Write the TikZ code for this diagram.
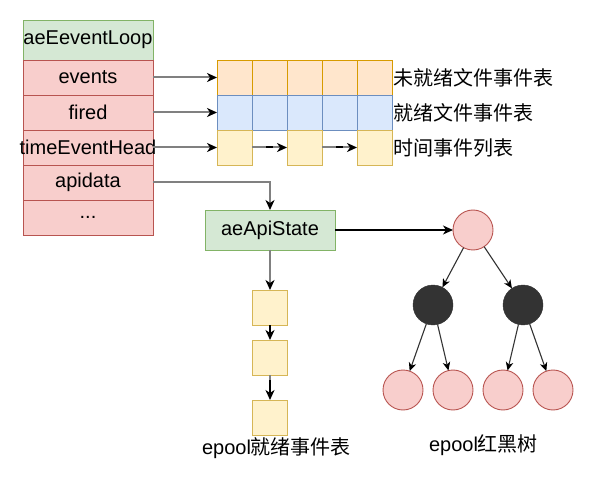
\documentclass[tikz,border=0pt]{standalone}
\usepackage{fontspec}
\setmainfont{Liberation Sans}
\newfontfamily\cjk{Noto Sans CJK SC}
\usetikzlibrary{arrows.meta}
\definecolor{gfill}{HTML}{D5E8D4}
\definecolor{gline}{HTML}{82B366}
\definecolor{rfill}{HTML}{F8CECC}
\definecolor{rline}{HTML}{B85450}
\definecolor{ofill}{HTML}{FFE6CC}
\definecolor{oline}{HTML}{D79B00}
\definecolor{bfill}{HTML}{DAE8FC}
\definecolor{bline}{HTML}{6C8EBF}
\definecolor{yfill}{HTML}{FFF2CC}
\definecolor{yline}{HTML}{D6B656}
\definecolor{dark}{HTML}{333333}
\definecolor{edgegray}{HTML}{808080}
\begin{document}
\begin{tikzpicture}[x=1pt,y=-1pt,
  every node/.style={inner sep=0pt,outer sep=0pt,font=\fontsize{20}{24}\selectfont},
  hdr/.style={draw=gline,fill=gfill,line width=0.9pt,minimum width=130pt,minimum height=40pt},
  row/.style={draw=rline,fill=rfill,line width=0.9pt,minimum width=130pt,minimum height=35pt,inner xsep=-10pt},
  ocell/.style={draw=oline,fill=ofill,line width=0.9pt,minimum width=35pt,minimum height=35pt},
  bcell/.style={draw=bline,fill=bfill,line width=0.9pt,minimum width=35pt,minimum height=35pt},
  ycell/.style={draw=yline,fill=yfill,line width=0.9pt,minimum width=35pt,minimum height=35pt},
  apibox/.style={draw=gline,fill=gfill,line width=0.9pt,minimum width=130pt,minimum height=40pt},
  rnode/.style={circle,draw=rline,fill=rfill,line width=0.9pt,minimum size=40pt},
  knode/.style={circle,draw=dark,fill=dark,minimum size=40pt},
  tip/.style={-{Stealth[length=10pt,width=9pt,inset=3pt,color=black]}},
  garrow/.style={tip,draw=edgegray,line width=2pt},
  karrow/.style={tip,draw=black,line width=2pt},
  tarrow/.style={-{Stealth[length=8.5pt,width=7.5pt,inset=2.5pt,color=black]},draw=dark,line width=1.1pt},
  lbl/.style={anchor=west}]
\useasboundingbox (0,0) rectangle (594,486);
% left table
\node[hdr] (loop) at (88,40) {aeEeventLoop};
\node[row] (events) at (88,77.5) {events};
\node[row] (fired) at (88,112.5) {fired};
\node[row] (teh) at (88,147.5) {timeEventHead};
\node[row] (apidata) at (88,182.5) {apidata};
\node[row] (dots) at (88,217.5) {...};
% grid
\foreach \i/\x in {1/234.5,2/269.5,3/304.5,4/339.5,5/374.5}{
  \node[ocell] (e\i) at (\x,77.5) {};
  \node[bcell] (f\i) at (\x,112.5) {};
}
\node[ycell] (t1) at (234.5,147.5) {};
\node[ycell] (t3) at (304.5,147.5) {};
\node[ycell] (t5) at (374.5,147.5) {};
\node[lbl] (le) at (393,77.5) {\cjk 未就绪文件事件表};
\node[lbl] (lf) at (393,112.5) {\cjk 就绪文件事件表};
\node[lbl] (lt) at (393,147.5) {\cjk 时间事件列表};
% arrows from table
\draw[garrow] (events.east) -- (e1.west);
\draw[garrow] (fired.east) -- (f1.west);
\draw[garrow] (teh.east) -- (t1.west);
\draw[garrow] (t1.east) -- (t3.west);
\draw[black,line width=2pt] ([xshift=14pt]t1.east) -- ([xshift=21pt]t1.east);
\draw[garrow] (t3.east) -- (t5.west);
\draw[black,line width=2pt] ([xshift=14pt]t3.east) -- ([xshift=21pt]t3.east);
% aeApiState
\node[apibox] (api) at (270,230) {aeApiState};
\draw[garrow] (apidata.east) -| (api.north);
% epoll ready list
\node[ycell] (s1) at (270,307.5) {};
\node[ycell] (s2) at (270,357.5) {};
\node[ycell] (s3) at (270,417.5) {};
\draw[garrow] (api.south) -- (s1.north);
\draw[karrow] (s1.south) -- (s2.north);
\draw[edgegray,line width=2pt] (s2.south) -- ([yshift=-5pt]s2.south);
\draw[karrow] ([yshift=-5pt]s2.south) -- (s3.north);
\node (lready) at (276.5,448) {epool\cjk 就绪事件表};
% rb tree
\node[rnode] (root) at (473,230) {};
\node[knode] (k1) at (433,305) {};
\node[knode] (k2) at (523,305) {};
\node[rnode] (l1) at (403,390) {};
\node[rnode] (l2) at (453,390) {};
\node[rnode] (l3) at (503,390) {};
\node[rnode] (l4) at (553,390) {};
\draw[tip,draw=black,line width=1.2pt] (api.east) -- (root.west);
\draw[tarrow] (root) -- (k1);
\draw[tarrow] (root) -- (k2);
\draw[tarrow] (k1) -- (l1);
\draw[tarrow] (k1) -- (l2);
\draw[tarrow] (k2) -- (l3);
\draw[tarrow] (k2) -- (l4);
\node (ltree) at (483.5,445) {epool\cjk 红黑树};
\end{tikzpicture}
\end{document}
